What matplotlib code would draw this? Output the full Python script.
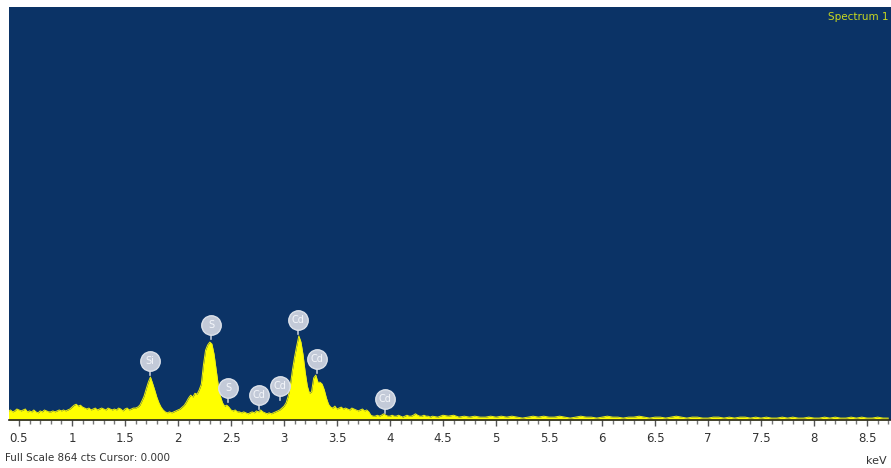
import matplotlib
matplotlib.use('Agg')
import matplotlib.pyplot as plt
from matplotlib.ticker import MultipleLocator
import numpy as np

# Спектр EDS: відліки на канал (0.02 кеВ до 4.4 кеВ, далі 0.05 кеВ)
e_low = np.round(np.arange(0.40, 4.40, 0.02), 2)
counts_low = [
    19, 21, 17, 19, 23, 21, 19, 21, 23, 17,   # 0.40
    19, 17, 21, 17, 15, 19, 17, 21, 19, 17,   # 0.60
    17, 19, 17, 19, 21, 19, 21, 19, 21, 23,   # 0.80
    27, 31, 33, 29, 31, 27, 25, 23, 25, 21,   # 1.00
    23, 25, 21, 23, 25, 23, 21, 25, 23, 21,   # 1.20
    23, 21, 25, 23, 19, 23, 25, 21, 23, 25,   # 1.40
    25, 27, 31, 40, 50, 65, 79, 90, 77, 63,   # 1.60
    48, 36, 27, 21, 17, 15, 17, 15, 17, 19,   # 1.80
    21, 23, 27, 31, 38, 46, 52, 48, 56, 54,   # 2.00
    63, 75, 115, 146, 157, 163, 159, 138, 105, 73,  # 2.20
    50, 36, 29, 31, 27, 21, 19, 21, 17, 17,   # 2.40
    15, 17, 15, 13, 15, 17, 15, 19, 17, 21,   # 2.60
    17, 15, 13, 15, 13, 15, 17, 19, 21, 25,   # 2.80
    29, 36, 50, 73, 105, 132, 155, 176, 163, 136,  # 3.00
    100, 71, 56, 59, 88, 94, 79, 79, 75, 63,  # 3.20
    46, 33, 27, 25, 29, 23, 25, 27, 23, 25,   # 3.40
    23, 21, 25, 23, 21, 19, 21, 23, 19, 21,   # 3.60
    17, 10, 8, 8, 10, 8, 10, 13, 10, 8,       # 3.80
    8, 10, 8, 8, 10, 8, 6, 8, 10, 8,          # 4.00
    8, 10, 13, 10, 8, 8, 10, 8, 8, 6,         # 4.20
]
e_high = np.round(np.arange(4.40, 8.76, 0.05), 2)
counts_high = [
    8, 6, 10, 8, 10, 6, 8, 6, 8, 6,           # 4.40
    6, 8, 6, 8, 6, 8, 6, 4, 6, 8,             # 4.90
    6, 8, 6, 6, 8, 6, 4, 6, 8, 6,             # 5.40
    6, 4, 6, 8, 6, 6, 4, 6, 6, 8,             # 5.90
    6, 4, 6, 6, 4, 6, 8, 6, 4, 6,             # 6.40
    6, 4, 4, 6, 6, 4, 6, 4, 6, 6,             # 6.90
    4, 6, 4, 6, 4, 4, 6, 4, 6, 4,             # 7.40
    4, 6, 4, 4, 6, 4, 6, 4, 4, 6,             # 7.90
    4, 6, 4, 4, 6, 4, 4,                      # 8.40
]
energy = np.concatenate([e_low, e_high[:len(counts_high)]])
counts = np.array(counts_low + counts_high)

full_scale = 864
x_min, x_max = 0.406, 8.726

# Мітки піків
peak_names = ['Si', 'S', 'S', 'Cd', 'Cd', 'Cd', 'Cd', 'Cd']
peak_kev = [1.736, 2.311, 2.472, 2.764, 2.962, 3.132, 3.311, 3.953]
peak_cts = [123, 199, 67, 52, 71, 209, 128, 44]

bg = '#0b3366'
yellow = '#ffff00'

fig = plt.figure(figsize=(8.91, 4.68), dpi=100)
ax = fig.add_axes([9 / 891, 48 / 468, 1 - 9 / 891, (420 - 7) / 468])
ax.set_facecolor(bg)

ax.fill_between(energy, 0, counts, color=yellow, lw=0)
ax.plot(energy, counts, color='#eeee10', lw=0.7)

px = full_scale / 413.0  # відліки на піксель
for name, kx, ky in zip(peak_names, peak_kev, peak_cts):
    ax.plot([kx, kx], [ky - 14 * px, ky - 8 * px], color='#c0c8d6', lw=1.2, zorder=4)
    ax.plot(kx, ky, 'o', ms=14, mfc='#c3cad8', mec='#dde2ea', mew=1.0, zorder=5)
    ax.text(kx, ky, name, ha='center', va='center', fontsize=7, color='#f4f6fa', zorder=6)

ax.set_xlim(x_min, x_max)
ax.set_ylim(0, full_scale)
ax.xaxis.set_major_locator(MultipleLocator(0.5))
ax.xaxis.set_minor_locator(MultipleLocator(0.1))
ax.xaxis.set_major_formatter(plt.FuncFormatter(lambda v, p: f'{v:g}'))
ax.tick_params(axis='x', which='major', length=4, width=1, color='#555555',
               labelsize=8.5, labelcolor='#333333', pad=5)
ax.tick_params(axis='x', which='minor', length=3, width=1, color='#777777')
ax.set_yticks([])
for side in ['top', 'right', 'left']:
    ax.spines[side].set_visible(False)
ax.spines['bottom'].set_color('#222222')
ax.spines['bottom'].set_linewidth(1.2)

fig.text(828 / 891, 1 - 17 / 468, 'Spectrum 1', color='#c8d820', fontsize=7.5,
         ha='left', va='center')
fig.text(5 / 891, 1 - 458 / 468, 'Full Scale 864 cts Cursor: 0.000', color='#333333',
         fontsize=7.5, ha='left', va='center')
fig.text(887 / 891, 1 - 461 / 468, 'keV', color='#333333', fontsize=8,
         ha='right', va='center')

fig.savefig('out.png', dpi=100, facecolor='white')
